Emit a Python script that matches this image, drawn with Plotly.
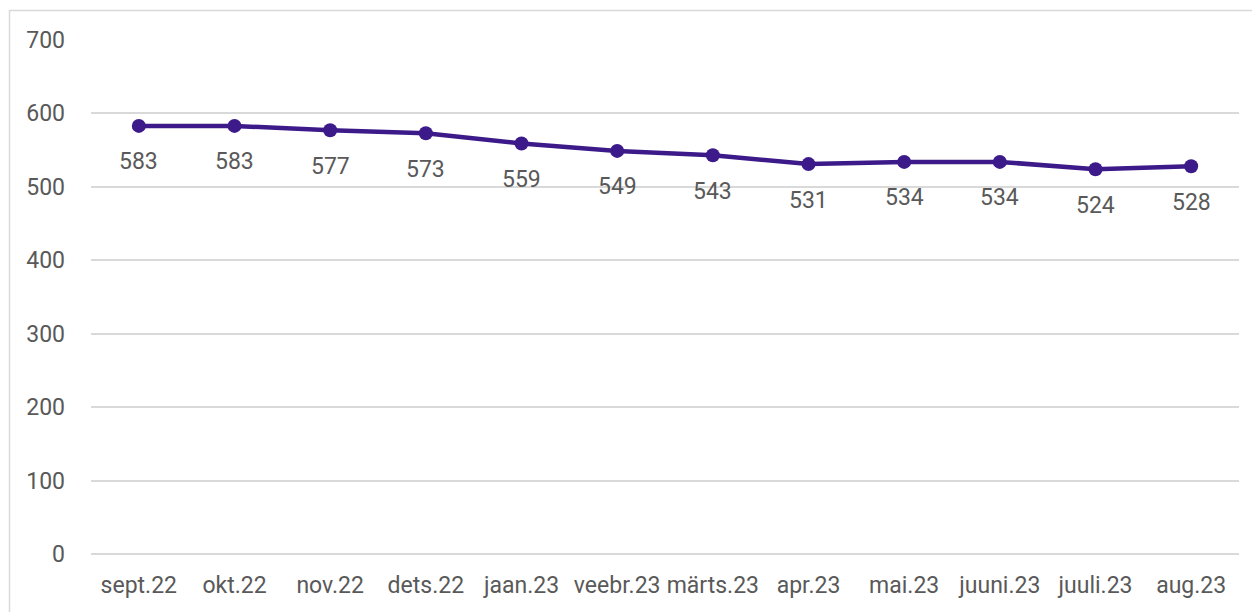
import plotly.graph_objects as go

months = ["sept.22", "okt.22", "nov.22", "dets.22", "jaan.23", "veebr.23", "märts.23",
          "apr.23", "mai.23", "juuni.23", "juuli.23", "aug.23"]
values = [583, 583, 577, 573, 559, 549, 543, 531, 534, 534, 524, 528]
y_ticks = [0, 100, 200, 300, 400, 500, 600, 700]

LINE = "#3d1a89"
TXT = "#595959"
FONT = "Roboto"

fig = go.Figure()
fig.add_trace(go.Scatter(
    x=months, y=values, mode="lines+markers",
    line=dict(color=LINE, width=4.5),
    marker=dict(color=LINE, size=14),
    hoverinfo="x+y", showlegend=False,
))

for m, v in zip(months, values):
    fig.add_annotation(x=m, y=v, text=str(v), showarrow=False, yshift=-36,
                       font=dict(family=FONT, size=23, color=TXT))

# page body has an 8px margin, so the figure starts at (8, 8) on screen
OFF = 8
W, H = 1260, 612
L = 91 - OFF
T = 40 - OFF
R = (W + OFF) - 1239
B = (H + OFF) - 554
pw, ph = W - L - R, H - T - B
x0 = (9.5 - OFF - L) / pw
y1 = (H - B - (10.5 - OFF)) / ph

fig.add_shape(type="rect", xref="paper", yref="paper",
              x0=x0, x1=1.2, y0=-0.3, y1=y1,
              line=dict(color="#d9d9d9", width=1.5), fillcolor="rgba(0,0,0,0)", layer="below")

fig.update_layout(
    width=W, height=H,
    margin=dict(l=L, r=R, t=T, b=B, pad=0),
    paper_bgcolor="white", plot_bgcolor="white",
    font=dict(family=FONT, size=23, color=TXT),
    xaxis=dict(type="category", range=[-0.5, 11.5], showgrid=False, showline=False,
               zeroline=False, ticks="", tickfont=dict(family=FONT, size=23, color=TXT),
               ticklabelstandoff=15, fixedrange=True),
    yaxis=dict(range=[0, 700], tickvals=y_ticks, showgrid=True, gridcolor="#d9d9d9",
               gridwidth=1.5, zeroline=True, zerolinecolor="#d9d9d9", zerolinewidth=1.5,
               showline=False, ticks="", tickfont=dict(family=FONT, size=23, color=TXT),
               ticklabelstandoff=25, fixedrange=True),
)

fig.write_html("out.html")
